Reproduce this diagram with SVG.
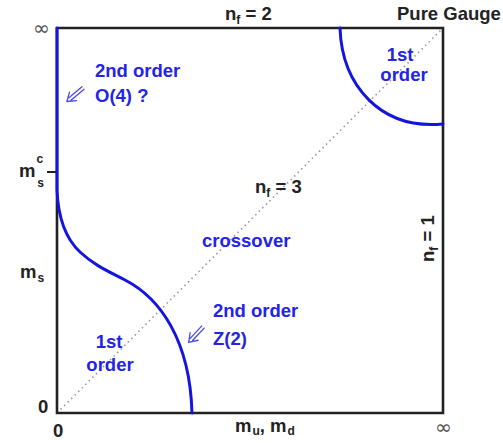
<svg xmlns="http://www.w3.org/2000/svg" xmlns:xlink="http://www.w3.org/1999/xlink" width="503" height="443" viewBox="0 0 503 443">
<style>
.t{font-family:"Liberation Sans",Arial,sans-serif;font-weight:bold;font-size:18.5px}
.b{fill:#2424e6}
.k{fill:#222}
.g{font-family:"DejaVu Sans",sans-serif;font-size:20px;fill:#555}
.curve{fill:none;stroke:#1414e0;stroke-width:3;stroke-linecap:round}
.arr{fill:none;stroke:#4a4ae8;stroke-width:1.3;stroke-linecap:round;stroke-linejoin:round}
</style>
<defs>
<g id="dblarrow">
<path class="arr" d="M0,-1.6 L17,-1.6 M0,1.6 L17,1.6 M13,-5.5 L21,0 L13,5.5"/>
</g>
</defs>
<rect width="503" height="443" fill="#fff"/>
<g id="frame">
<line x1="57" y1="413" x2="443" y2="28" stroke="#999" stroke-width="1.6" stroke-dasharray="1.5,3.5"/>
<path d="M57,28 H443 V413 H57 Z" fill="none" stroke="#222" stroke-width="2.6"/>
<line x1="47" y1="172" x2="57" y2="172" stroke="#222" stroke-width="2"/>
</g>
<g id="connectors">
<path class="curve" d="M57,28 L57,190 C58,215 65,238 80,252 C95,266 110,272 125,280 C160,298 190,340 192,413"/>
<path class="curve" d="M340,28 C342,85 380,130 443,124"/>
<use xlink:href="#dblarrow" transform="translate(83,88) rotate(140)"/>
<use xlink:href="#dblarrow" transform="translate(203,327) rotate(133)"/>
</g>
<g id="labels">
<text class="t k" x="225" y="20">n<tspan font-size="12" dy="4">f</tspan><tspan dy="-4"> = 2</tspan></text>
<text class="t k" x="397" y="20">Pure Gauge</text>
<text class="t k" x="255" y="193">n<tspan font-size="12" dy="4">f</tspan><tspan dy="-4"> = 3</tspan></text>
<text class="t k" transform="translate(434,262) rotate(-90)">n<tspan font-size="12" dy="4">f</tspan><tspan dy="-4"> = 1</tspan></text>
<text class="t k" x="19" y="177">m<tspan font-size="12" dx="1" dy="-14">c</tspan><tspan font-size="12" dx="-6" dy="24">s</tspan></text>
<text class="t k" x="20" y="278">m<tspan font-size="12" dx="1" dy="4">s</tspan></text>
<text class="t k" x="38" y="413">0</text>
<text class="t k" x="53" y="437">0</text>
<text class="t k" x="235" y="432">m<tspan font-size="12" dx="1" dy="3">u</tspan><tspan dy="-3">, m</tspan><tspan font-size="12" dx="1" dy="3">d</tspan></text>
<text class="g" x="33" y="35">∞</text>
<text class="g" x="435" y="434">∞</text>
</g>
<g id="node-2nd-O4">
<text class="t b" x="95" y="77">2nd order</text>
<text class="t b" x="95" y="102">O(4) ?</text>
</g>
<g id="node-1st-top">
<text class="t b" x="400" y="61" text-anchor="middle">1st</text>
<text class="t b" x="404" y="81" text-anchor="middle">order</text>
</g>
<g id="node-crossover">
<text class="t b" x="202" y="247">crossover</text>
</g>
<g id="node-2nd-Z2">
<text class="t b" x="213" y="317">2nd order</text>
<text class="t b" x="213" y="345">Z(2)</text>
</g>
<g id="node-1st-bottom">
<text class="t b" x="109" y="348" text-anchor="middle">1st</text>
<text class="t b" x="110" y="371" text-anchor="middle">order</text>
</g>
</svg>
